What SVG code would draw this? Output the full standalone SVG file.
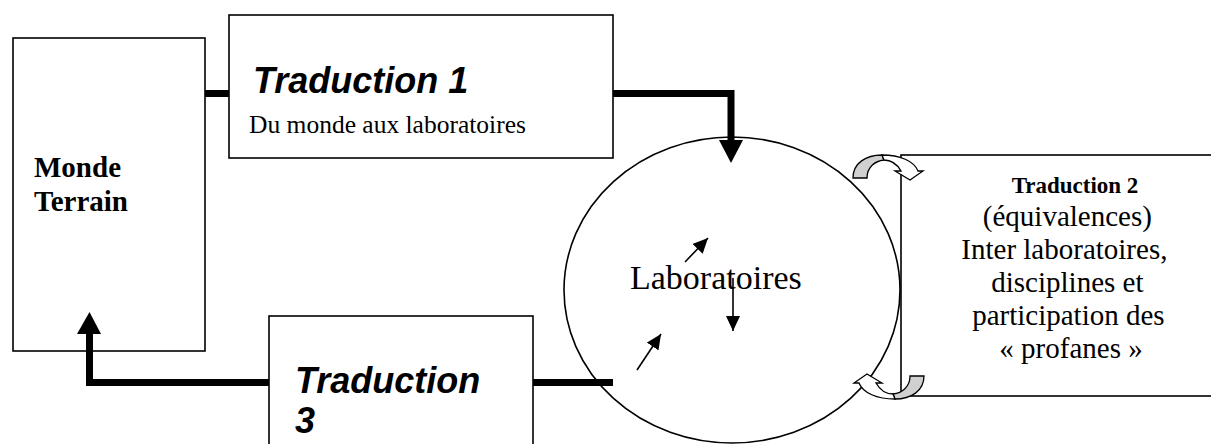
<svg xmlns="http://www.w3.org/2000/svg" width="1211" height="444" viewBox="0 0 1211 444">
<style>
.box{fill:#fff;stroke:#000;stroke-width:1.6}
.thick{fill:none;stroke:#000;stroke-width:7;stroke-linecap:butt;stroke-linejoin:miter}
.thin{fill:none;stroke:#000;stroke-width:1.6}
.head{fill:#000;stroke:none}
.t-ital{font-family:"Liberation Sans",Arial,sans-serif;font-weight:bold;font-style:italic;font-size:36px;fill:#000}
.t-serif{font-family:"Liberation Serif","Times New Roman",serif;fill:#000}
.bold{font-weight:bold}
.mid{text-anchor:middle}
</style>
<defs>
<marker id="ah" markerUnits="userSpaceOnUse" markerWidth="15" markerHeight="14" refX="15" refY="7" orient="auto">
<path d="M0,0 L15,7 L0,14 Z" fill="#000"/>
</marker>
<g id="curved">
<path d="M853,178 C853,163 866,155 882,155 L884,160 C875,161 867,167 867,178 Z" fill="#d0d0d0" stroke="#000" stroke-width="1.3"/>
<path d="M882,155 C900,155 914,161 918,171 L923,171 L910,180 L895,171 L901,171 C897,164 891,160 884,160 Z" fill="#fff" stroke="#000" stroke-width="1.3"/>
</g>
</defs>
<rect width="1211" height="444" fill="#fff"/>

<g id="laboratoires">
<ellipse cx="732" cy="290" rx="168" ry="153" class="thin"/>
<text x="630" y="289" class="t-serif" font-size="34">Laboratoires</text>
<line x1="685" y1="262" x2="708" y2="238" class="thin" marker-end="url(#ah)"/>
<line x1="733" y1="278" x2="733" y2="331" class="thin" marker-end="url(#ah)"/>
<line x1="637" y1="370" x2="661" y2="334" class="thin" marker-end="url(#ah)"/>
</g>

<g id="monde-terrain">
<rect x="13" y="38" width="192" height="313" class="box"/>
<text class="t-serif bold" font-size="29"><tspan x="34" y="177">Monde</tspan><tspan x="34" y="211">Terrain</tspan></text>
</g>

<g id="traduction-1">
<rect x="229" y="15" width="384" height="143" class="box"/>
<text x="253" y="93" class="t-ital">Traduction 1</text>
<text x="249" y="133" class="t-serif" font-size="25.5">Du monde aux laboratoires</text>
</g>

<g id="traduction-3">
<rect x="269" y="316" width="264" height="150" class="box"/>
<text class="t-ital"><tspan x="295" y="393">Traduction</tspan><tspan x="295" y="433">3</tspan></text>
</g>

<g id="traduction-2">
<rect x="901" y="155" width="340" height="241" class="box"/>
<text x="1075" y="193" class="t-serif bold mid" font-size="23">Traduction 2</text>
<text class="t-serif mid" font-size="29">
<tspan x="1071" y="226">(équivalences)</tspan>
<tspan x="1068" y="259">Inter laboratoires,</tspan>
<tspan x="1071" y="292">disciplines et</tspan>
<tspan x="1072" y="325">participation des</tspan>
<tspan x="1071" y="358">« profanes »</tspan>
</text>
</g>

<g id="connectors">
<path d="M205,93.5 H229" class="thick"/>
<path d="M613,93.5 H731 V141" class="thick"/>
<polygon points="719,140 743,140 731,163" class="head"/>
<path d="M269,382.5 H89.5 V333" class="thick"/>
<polygon points="77,334 101,334 89.5,312" class="head"/>
<path d="M533,382.5 H613" class="thick"/>
<g id="loop-arrows">
<use href="#curved"/>
<use href="#curved" transform="rotate(180 888.5 277)"/>
</g>
</g>
</svg>
